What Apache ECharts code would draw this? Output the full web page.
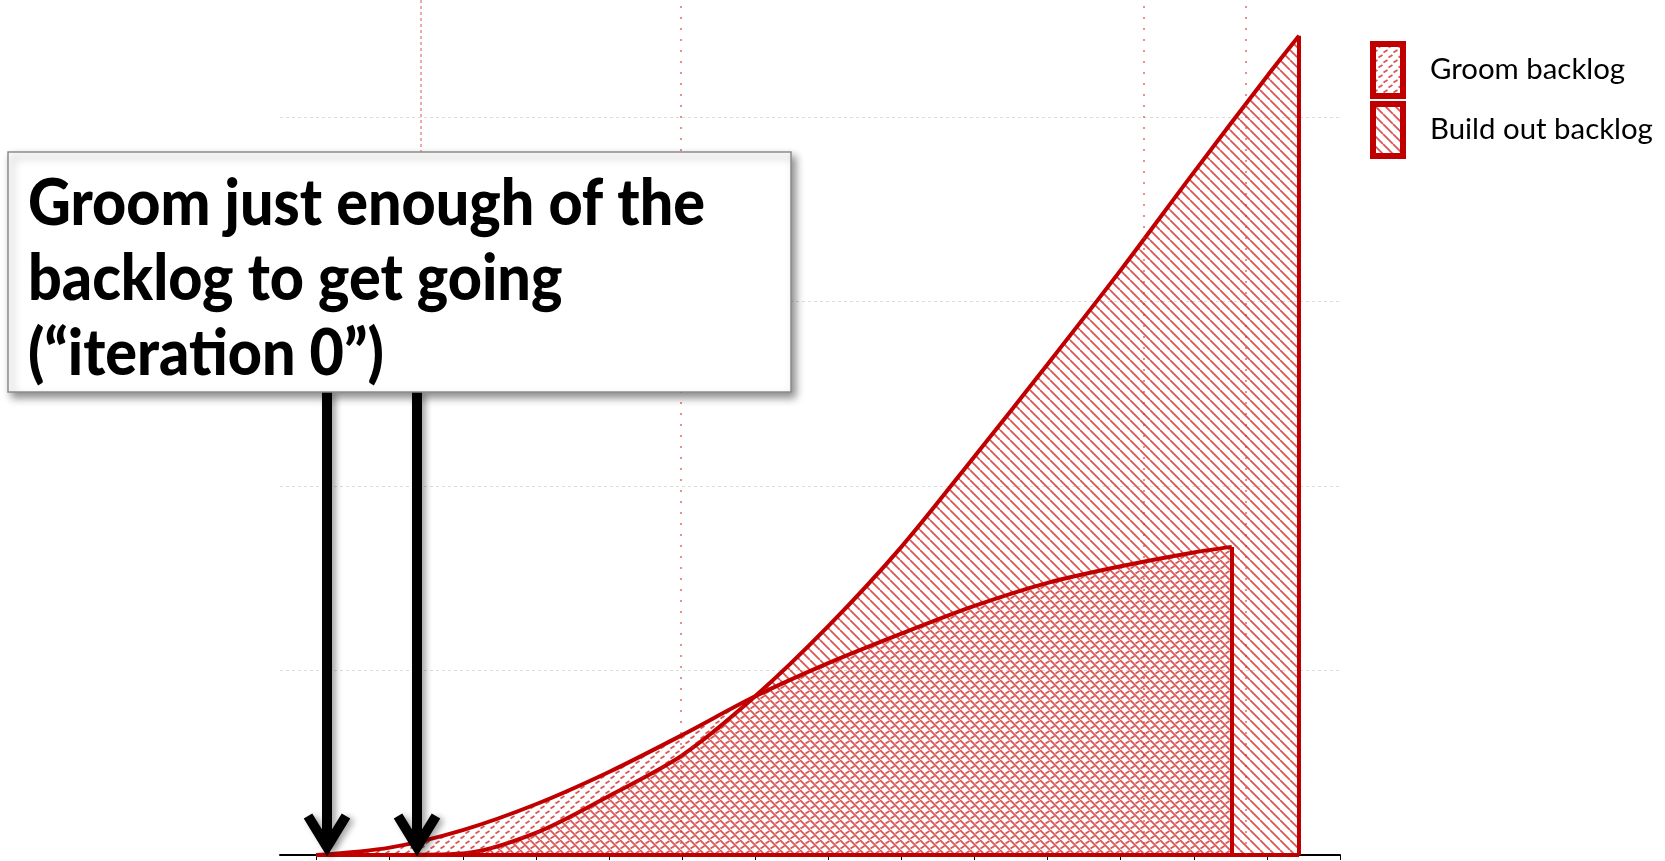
<!DOCTYPE html>
<html>
<head>
<meta charset="utf-8">
<title>Backlog grooming vs build out</title>
<script src="https://cdn.jsdelivr.net/npm/echarts@6/dist/echarts.min.js"></script>
<style>
  html, body { margin: 0; padding: 0; background: #ffffff; }
  #chart { width: 1665px; height: 861px; }
</style>
</head>
<body>
<div id="chart"></div>
<script>
// ---- data -------------------------------------------------------------
// tick positions along the time axis (one per sprint)
const tickValues = [0, 1, 2, 3, 4, 5, 6, 7, 8, 9, 10, 11, 12, 13, 14];

// Groom backlog curve
const groomX = [0, 1, 2, 3, 4, 5, 6, 7, 8, 9, 10, 11, 12, 12.52];
const groomY = [0, 0.4, 1.35, 2.75, 4.5, 6.5, 8.6, 10.4, 12.0, 13.5, 14.75, 15.65, 16.4, 16.7];

// Build out backlog curve
const buildX = [0, 1, 2, 3, 4, 5, 6, 7, 8, 9, 10, 11, 12, 13, 13.44];
const buildY = [0, 0, 0.08, 1.2, 3.2, 5.4, 8.6, 12.4, 16.7, 21.6, 26.6, 31.7, 37.0, 42.2, 44.4];

// dotted milestone markers
const markerX = [1.42, 4.98, 11.32, 12.71];

// callout arrows pointing at the start of the timeline
const arrowX = [0.14, 1.37];

const seriesNames = ['Groom backlog', 'Build out backlog'];
const calloutLines = ['Groom just enough of the', 'backlog to get going', '(\u201Citeration 0\u201D)'];

// ---- styling helpers ---------------------------------------------------
const RED = '#c00000';
const HATCH = 'rgba(205,20,20,0.72)';

function makeTile(size, draw) {
  const c = document.createElement('canvas');
  c.width = size; c.height = size;
  const g = c.getContext('2d');
  draw(g, size);
  return { image: c, repeat: 'repeat' };
}

// light downward diagonal hatch
function downHatch() {
  return makeTile(10, (g, s) => {
    g.strokeStyle = HATCH;
    g.lineWidth = 1.8;
    g.beginPath();
    [-s, 0, s].forEach(k => { g.moveTo(k, 0); g.lineTo(k + s, s); });
    g.stroke();
  });
}

// dashed upward diagonal hatch
function dashedUpHatch() {
  return makeTile(10, (g, s) => {
    g.strokeStyle = HATCH;
    g.lineWidth = 1.8;
    g.beginPath();
    g.moveTo(0.5, 8.5); g.lineTo(4.5, 6);
    g.moveTo(5.5, 3.5); g.lineTo(9.5, 1);
    g.stroke();
  });
}

function textWidth(text, weight, size, family) {
  const ctx = document.createElement('canvas').getContext('2d');
  ctx.font = weight + ' ' + size + 'px ' + family;
  return ctx.measureText(text).width;
}

const zip = (xs, ys) => xs.map((x, i) => [x, ys[i]]);
const last = a => a[a.length - 1];

const groomFill = dashedUpHatch();
const buildFill = downHatch();

const FONT = 'Lato';
const legendFontSize = 100 * 223 / textWidth('Build out backlog', 'normal', 100, FONT);
// callout text: tall heavy type, squeezed horizontally to the box width
const CALLOUT_WEIGHT = 900;
const calloutFontSize = 64;
const calloutScaleX = 677 / textWidth(calloutLines[0], CALLOUT_WEIGHT, calloutFontSize, FONT);

const edgeStyle = { color: RED, width: 4, type: 'solid' };

function edgeLines(xs, ys) {
  return [
    [{ coord: [last(xs), 0] }, { coord: [last(xs), last(ys)] }],
    [{ coord: [xs[0], 0] }, { coord: [last(xs), 0] }]
  ];
}

// ---- chart --------------------------------------------------------------
const chart = echarts.init(document.getElementById('chart'), null, { renderer: 'canvas' });

const option = {
  animation: false,
  backgroundColor: '#ffffff',
  grid: { left: 280, right: 325, top: -67.5, bottom: 6, outerBoundsMode: 'none', containLabel: false },
  xAxis: {
    type: 'value',
    min: -0.5,
    max: 14,
    axisLine: { show: true, onZero: false, lineStyle: { color: '#000000', width: 2 } },
    axisTick: { show: true, length: 5, customValues: tickValues, lineStyle: { color: '#000000', width: 1 } },
    axisLabel: { show: false },
    splitLine: { show: false }
  },
  yAxis: {
    type: 'value',
    min: 0,
    max: 50,
    interval: 10,
    axisLine: { show: false },
    axisTick: { show: false },
    axisLabel: { show: false },
    splitLine: { show: true, lineStyle: { color: '#dcdcdc', width: 1, type: [3, 3] } }
  },
  legend: {
    data: [
      { name: seriesNames[0], icon: 'rect', itemStyle: { color: groomFill, borderColor: RED, borderWidth: 6 } },
      { name: seriesNames[1], icon: 'rect', itemStyle: { color: buildFill, borderColor: RED, borderWidth: 6 } }
    ],
    orient: 'vertical',
    left: 1370,
    top: 41,
    padding: 0,
    itemWidth: 30,
    itemHeight: 52,
    itemGap: 2,
    selectedMode: false,
    textStyle: { fontFamily: FONT, fontSize: legendFontSize, color: '#000000', padding: [6, 0, 0, 22] }
  },
  series: [
    {
      name: seriesNames[1],
      type: 'line',
      data: zip(buildX, buildY),
      smooth: 0.3,
      showSymbol: false,
      symbol: 'none',
      lineStyle: { color: RED, width: 4 },
      itemStyle: { color: RED },
      areaStyle: { color: buildFill, opacity: 1 },
      markLine: { silent: true, symbol: 'none', label: { show: false }, lineStyle: edgeStyle, data: edgeLines(buildX, buildY) },
      z: 2
    },
    {
      name: seriesNames[0],
      type: 'line',
      data: zip(groomX, groomY),
      smooth: 0.3,
      showSymbol: false,
      symbol: 'none',
      lineStyle: { color: RED, width: 4 },
      itemStyle: { color: RED },
      areaStyle: { color: groomFill, opacity: 1 },
      markLine: { silent: true, symbol: 'none', label: { show: false }, lineStyle: edgeStyle, data: edgeLines(groomX, groomY) },
      z: 3
    },
    {
      name: 'milestones',
      type: 'line',
      data: [],
      markLine: {
        silent: true,
        symbol: 'none',
        label: { show: false },
        data: markerX.map((v, i) => ({
          xAxis: v,
          lineStyle: i === 0
            ? { color: 'rgba(215,50,50,0.55)', width: 1.5, type: [3, 3] }
            : { color: 'rgba(215,40,40,0.7)', width: 1.5, type: [2, 9] }
        }))
      },
      z: 1
    }
  ]
};

chart.setOption(option);

// ---- callout box and arrows -------------------------------------------------
const axisY = chart.convertToPixel({ gridIndex: 0 }, [0, 0])[1];
const boxTop = 152, boxBottom = 392;
const graphics = [];

arrowX.forEach(v => {
  const px = Math.round(chart.convertToPixel({ gridIndex: 0 }, [v, 0])[0]);
  const tip = axisY - 8;
  const shadow = { shadowBlur: 6, shadowOffsetX: 4, shadowOffsetY: 2, shadowColor: 'rgba(0,0,0,0.35)' };
  graphics.push({
    type: 'line', z: 50,
    shape: { x1: px, y1: boxBottom, x2: px, y2: tip - 4 },
    style: Object.assign({ stroke: '#000000', lineWidth: 10 }, shadow)
  });
  graphics.push({
    type: 'polyline', z: 50,
    shape: { points: [[px - 19, tip - 31], [px, tip], [px + 19, tip - 31]] },
    style: Object.assign({ stroke: '#000000', lineWidth: 10, lineJoin: 'miter', fill: null }, shadow)
  });
});

graphics.push({
  type: 'rect', z: 60,
  shape: { x: 8, y: boxTop, width: 783, height: boxBottom - boxTop },
  style: { fill: '#ffffff', stroke: '#8c8c8c', lineWidth: 1.5, shadowBlur: 8, shadowOffsetX: 4, shadowOffsetY: 5, shadowColor: 'rgba(0,0,0,0.45)' }
});

calloutLines.forEach((line, i) => {
  graphics.push({
    type: 'text', z: 61,
    x: 28,
    y: 204 + i * 75,
    scaleX: calloutScaleX,
    style: {
      text: line,
      x: 0,
      y: 0,
      verticalAlign: 'middle',
      align: 'left',
      fill: '#000000',
      fontFamily: FONT,
      fontWeight: CALLOUT_WEIGHT,
      fontSize: calloutFontSize
    }
  });
});

chart.setOption({ graphic: graphics });
</script>
</body>
</html>
